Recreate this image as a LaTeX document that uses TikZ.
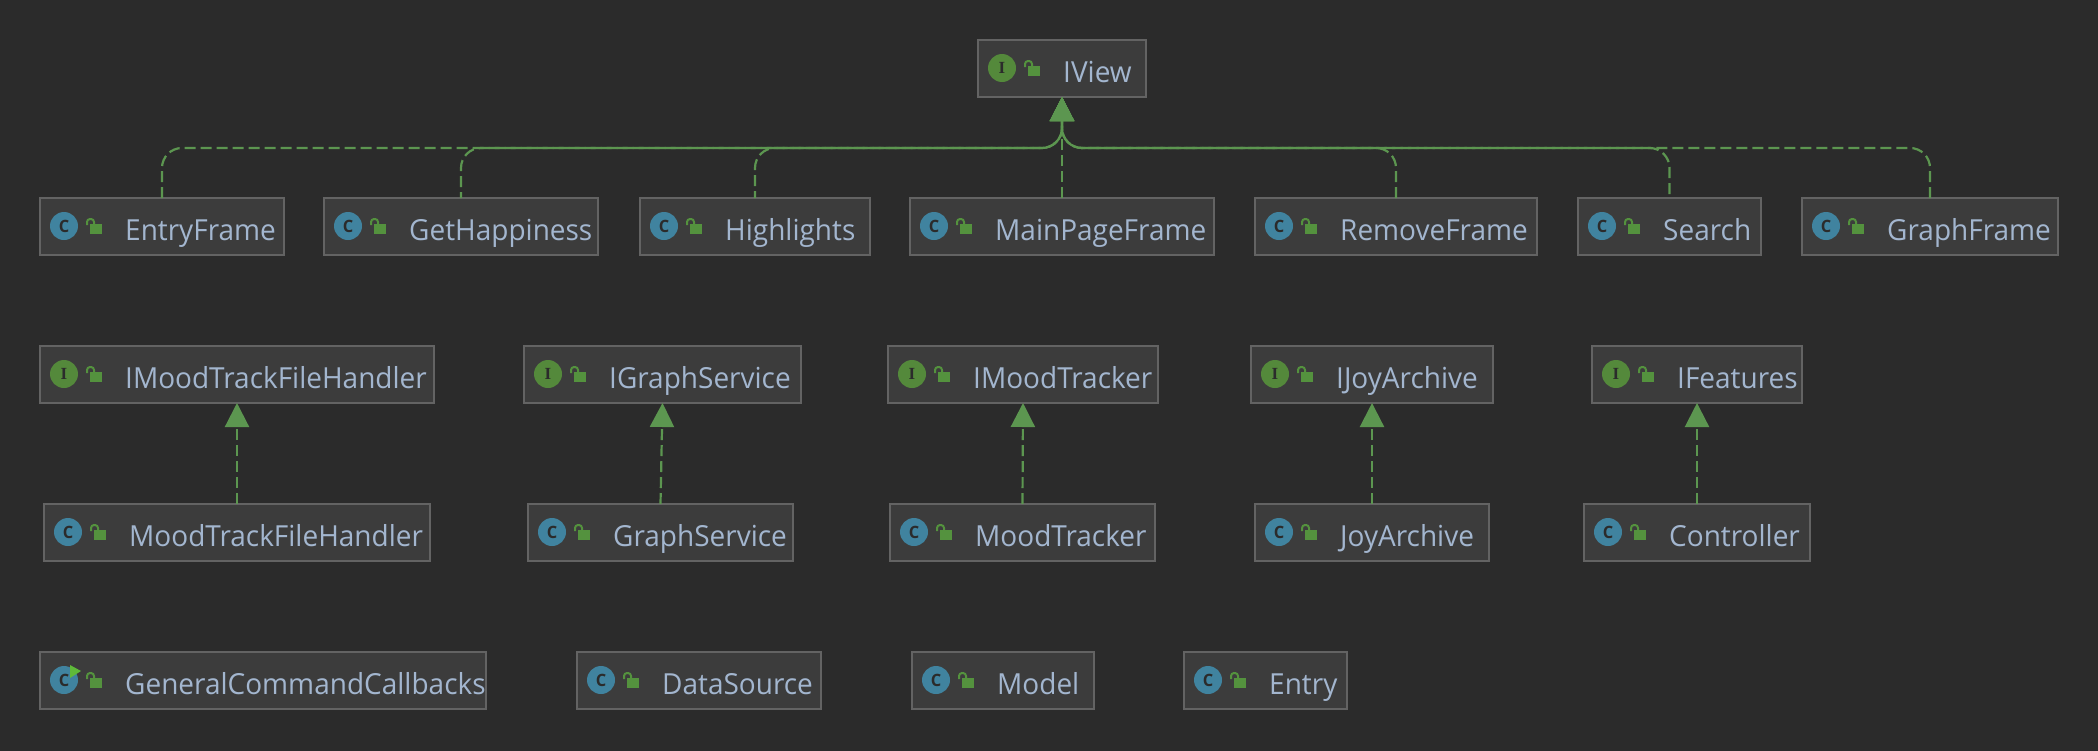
\documentclass[tikz,border=0pt]{standalone}
\usepackage{fontspec}
\setmainfont[FakeStretch=0.965]{Open Sans}
\newfontfamily\iconserif{Liberation Serif}
\usetikzlibrary{arrows.meta}

\definecolor{bgcolor}{HTML}{2B2B2B}
\definecolor{boxfill}{HTML}{3C3C3C}
\definecolor{boxline}{HTML}{636363}
\definecolor{labeltext}{HTML}{A3B6CF}
\definecolor{classblue}{HTML}{40839F}
\definecolor{ifacegreen}{HTML}{54893B}
\definecolor{lockgreen}{HTML}{54923E}
\definecolor{linkgreen}{HTML}{5C9650}
\definecolor{runarrow}{HTML}{5FBA3A}

\tikzset{
    umlbox/.style={draw=boxline, fill=boxfill, line width=1.5pt, rectangle, anchor=north west,
        inner sep=0pt, outer sep=0pt, minimum height=57pt},
    umllabel/.style={anchor=base west, inner sep=0pt, text=labeltext, font=\fontsize{29}{29}\selectfont},
    classicon/.style={circle, fill=classblue, minimum size=28pt, inner sep=0pt,
        text=bgcolor, font=\fontsize{17}{17}\selectfont\bfseries},
    ifaceicon/.style={circle, fill=ifacegreen, minimum size=28pt, inner sep=0pt,
        text=bgcolor, font=\fontsize{17}{17}\iconserif\bfseries},
    lockbody/.style={rectangle, fill=lockgreen, anchor=north west, inner sep=0pt,
        minimum width=12pt, minimum height=10pt},
    lockbar/.style={draw=lockgreen, line width=2pt, rounded corners=3pt},
    impl/.style={draw=linkgreen, line width=2.2pt, dash pattern=on 11pt off 5pt,
        -{Triangle[length=24pt,width=24pt,fill=linkgreen]}},
    implbus/.style={impl, rounded corners=20pt},
}

% name, left, right, top, icon style, icon letter, text
\newcommand{\umlnode}[7]{
    \node[umlbox, minimum width=#3pt-#2pt] (#1) at (#2,#4) {};
    \node[#5] (#1icon) at (#2+24,#4+28) {#6};
    \node[lockbody] (#1lock) at (#2+50,#4+26) {};
    \draw[lockbar] (#2+47,#4+27) -- (#2+47,#4+21) -- (#2+54,#4+21) -- (#2+54,#4+26);
    \node[umllabel] (#1text) at (#2+85,#4+42) {#7};
}

\begin{document}
\begin{tikzpicture}[x=1pt, y=-1pt]
    \useasboundingbox (0,0) rectangle (2098,750);
    \fill[bgcolor] (-4,-4) rectangle (2102,754);

    % top row
    \umlnode{iview}{978}{1146}{40}{ifaceicon}{I}{IView}
    \umlnode{entryframe}{40}{284}{198}{classicon}{C}{EntryFrame}
    \umlnode{gethappiness}{324}{598}{198}{classicon}{C}{GetHappiness}
    \umlnode{highlights}{640}{870}{198}{classicon}{C}{Highlights}
    \umlnode{mainpage}{910}{1214}{198}{classicon}{C}{MainPageFrame}
    \umlnode{removeframe}{1255}{1537}{198}{classicon}{C}{RemoveFrame}
    \umlnode{search}{1578}{1761}{198}{classicon}{C}{Search}
    \umlnode{graphframe}{1802}{2058}{198}{classicon}{C}{GraphFrame}

    % interfaces
    \umlnode{imoodfile}{40}{434}{346}{ifaceicon}{I}{IMoodTrackFileHandler}
    \umlnode{igraph}{524}{801}{346}{ifaceicon}{I}{IGraphService}
    \umlnode{imood}{888}{1158}{346}{ifaceicon}{I}{IMoodTracker}
    \umlnode{ijoy}{1251}{1493}{346}{ifaceicon}{I}{IJoyArchive}
    \umlnode{ifeatures}{1592}{1802}{346}{ifaceicon}{I}{IFeatures}

    % implementations
    \umlnode{moodfile}{44}{430}{504}{classicon}{C}{MoodTrackFileHandler}
    \umlnode{graph}{528}{793}{504}{classicon}{C}{GraphService}
    \umlnode{mood}{890}{1155}{504}{classicon}{C}{MoodTracker}
    \umlnode{joy}{1255}{1489}{504}{classicon}{C}{JoyArchive}
    \umlnode{controller}{1584}{1810}{504}{classicon}{C}{Controller}

    % bottom row
    \umlnode{callbacks}{40}{486}{652}{classicon}{C}{GeneralCommandCallbacks}
    \umlnode{datasource}{577}{821}{652}{classicon}{C}{DataSource}
    \umlnode{model}{912}{1094}{652}{classicon}{C}{Model}
    \umlnode{entry}{1184}{1347}{652}{classicon}{C}{Entry}
    \fill[runarrow] (70,665) -- (81,671) -- (70,678) -- cycle;

    \coordinate (busl) at (1062,148);

    \draw[implbus] (entryframe.north) |- (busl) -- (iview.south);
    \draw[implbus, dash phase=5pt] (gethappiness.north) |- (busl) -- (iview.south);
    \draw[implbus, dash phase=4pt] (highlights.north) |- (busl) -- (iview.south);
    \draw[impl] (mainpage.north) -- (iview.south);
    \draw[implbus] (removeframe.north) |- (busl) -- (iview.south);
    \draw[implbus, dash phase=12pt] (search.north) |- (busl) -- (iview.south);
    \draw[implbus] (graphframe.north) |- (busl) -- (iview.south);

    \draw[impl] (moodfile.north) -- (imoodfile.south);
    \draw[impl] (graph.north) -- (igraph.south);
    \draw[impl] (mood.north) -- (imood.south);
    \draw[impl] (joy.north) -- (ijoy.south);
    \draw[impl] (controller.north) -- (ifeatures.south);
\end{tikzpicture}
\end{document}
